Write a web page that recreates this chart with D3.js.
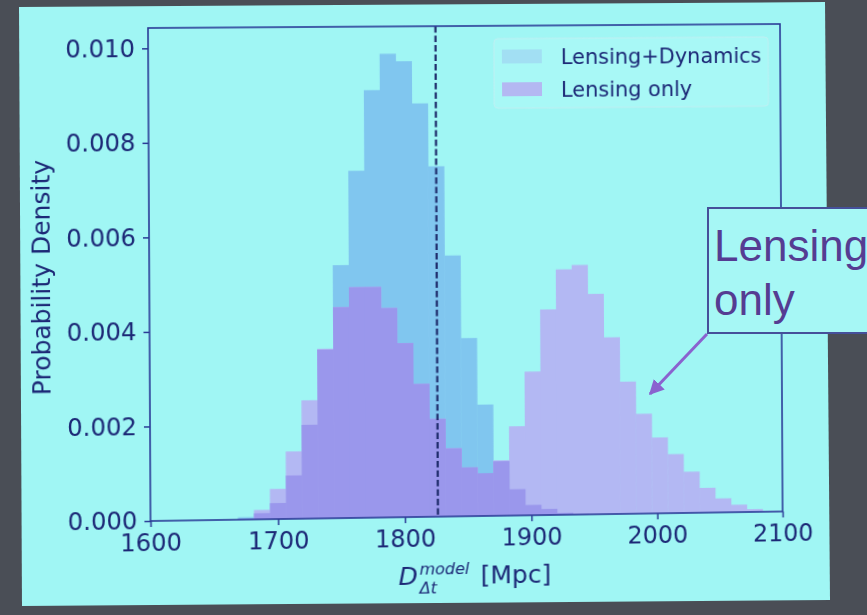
<!DOCTYPE html>
<html>
<head>
<meta charset="utf-8">
<script src="https://cdn.jsdelivr.net/npm/d3@7"></script>
<style>
  body { margin: 0; background: #4a4e56; }
  #wrap { position: relative; width: 867px; height: 615px; overflow: hidden; background: #4a4e56; filter: blur(0.4px); }
  #wrap svg, #plane { position: absolute; left: 0; top: 0; }
  #plane { width: 867px; height: 615px; transform-origin: 0 0; }
  text { font-family: "DejaVu Sans", sans-serif; }
</style>
</head>
<body>
<div id="wrap">
  <svg id="bg" width="867" height="615"></svg>
  <div id="plane"><svg id="chart" width="867" height="615"></svg></div>
  <svg id="over" width="867" height="615"></svg>
</div>
<script>
// histogram data (probability density per bin)
const binStart = 1668.5;
const binWidth = 12.59;
const lensDyn = [0.00005, 0.00013, 0.00034, 0.00092, 0.00199, 0.00358, 0.00537, 0.00737,
    0.00908, 0.00985, 0.00969, 0.00879, 0.00745, 0.00555, 0.00379, 0.00237, 0.00116,
    0.00056, 0.00022, 0.00013, 0.00004, 0.00002];
const lensOnly = [0.00002, 0.00020, 0.00064, 0.00143, 0.00251, 0.00360, 0.00448, 0.00490,
    0.00490, 0.00445, 0.00370, 0.00283, 0.00208, 0.00145, 0.00104, 0.00091, 0.00118,
    0.00190, 0.00306, 0.00438, 0.00523, 0.00532, 0.00470, 0.00377, 0.00282, 0.00213,
    0.00162, 0.00126, 0.00088, 0.00053, 0.00030, 0.00016, 0.00006, 0.00002];
const xTicks = [1600, 1700, 1800, 1900, 2000, 2100];
const yTicks = [0, 0.002, 0.004, 0.006, 0.008, 0.010];
const xDomain = [1600, 2100];
const yDomain = [0, 0.01043];
const refLine = 1826;
const legendLabels = ["Lensing+Dynamics", "Lensing only"];
const calloutLines = ["Lensing", "only"];

const colors = {
    slide: "#a0f6f4",
    ld: "#80c6ef",
    lo: "#b3b8f3",
    both: "#9a97ec",
    ink: "#1c2876",
    spine: "#2a3a96",
    callout: "#553c92",
    arrow: "#8a62cf"
};

// flat axes box and where its corners land in the photo (keystone)
const box = {left: 150, right: 782, top: 28, bottom: 521};
const flatCorners = [[box.left, box.top], [box.right, box.top], [box.right, box.bottom], [box.left, box.bottom]];
const photoCorners = [[148, 28], [780, 24], [782.6, 511.5], [150.5, 521]];

function homography(src, dst) {
    let A = [], b = [];
    for (let i = 0; i < 4; i++) {
        let [x, y] = src[i], [u, v] = dst[i];
        A.push([x, y, 1, 0, 0, 0, -x * u, -y * u]); b.push(u);
        A.push([0, 0, 0, x, y, 1, -x * v, -y * v]); b.push(v);
    }
    for (let c = 0; c < 8; c++) {
        let p = c;
        for (let r = c + 1; r < 8; r++) if (Math.abs(A[r][c]) > Math.abs(A[p][c])) p = r;
        [A[c], A[p]] = [A[p], A[c]];
        [b[c], b[p]] = [b[p], b[c]];
        for (let r = 0; r < 8; r++) {
            if (r === c) continue;
            let f = A[r][c] / A[c][c];
            for (let k = c; k < 8; k++) A[r][k] -= f * A[c][k];
            b[r] -= f * b[c];
        }
    }
    return b.map((v, i) => v / A[i][i]);
}

let h = homography(flatCorners, photoCorners);
document.getElementById("plane").style.transform =
    `matrix3d(${h[0]},${h[3]},0,${h[6]},${h[1]},${h[4]},0,${h[7]},0,0,1,0,${h[2]},${h[5]},0,1)`;

// slide background (projection area)
d3.select("#bg").append("polygon")
    .attr("points", "19,7 825,2 830,600 22,606")
    .attr("fill", colors.slide);

let svg = d3.select("#chart");

let x = d3.scaleLinear().domain(xDomain).range([box.left, box.right]);
let y = d3.scaleLinear().domain(yDomain).range([box.bottom, box.top]);

let bins = (arr) => arr.map((v, i) => ({x0: binStart + i * binWidth, x1: binStart + (i + 1) * binWidth, v: v}));
let ldBins = bins(lensDyn);
let loBins = bins(lensOnly);
let bothBins = loBins.map((d, i) => ({x0: d.x0, x1: d.x1, v: Math.min(d.v, lensDyn[i] || 0)}));

let drawBars = (data, fill) => svg.append("g")
    .selectAll("rect")
    .data(data)
    .join("rect")
    .attr("x", d => x(d.x0))
    .attr("width", d => x(d.x1) - x(d.x0) + 0.4)
    .attr("y", d => y(d.v))
    .attr("height", d => y(0) - y(d.v))
    .attr("fill", fill);

drawBars(ldBins, colors.ld);
drawBars(loBins, colors.lo);
drawBars(bothBins, colors.both);

// dashed reference line
svg.append("line")
    .attr("x1", x(refLine)).attr("x2", x(refLine))
    .attr("y1", box.top).attr("y2", box.bottom)
    .attr("stroke", "#1f2c6c")
    .attr("stroke-width", 2.2)
    .attr("stroke-dasharray", "6.5,3");

// spines
svg.append("rect")
    .attr("x", box.left).attr("y", box.top)
    .attr("width", box.right - box.left).attr("height", box.bottom - box.top)
    .attr("fill", "none")
    .attr("stroke", colors.spine)
    .attr("stroke-width", 1.6);

let xAxis = svg.append("g")
    .attr("transform", `translate(0,${box.bottom})`)
    .call(d3.axisBottom(x).tickValues(xTicks).tickFormat(d3.format("d")).tickSize(6).tickPadding(7));
let yAxis = svg.append("g")
    .attr("transform", `translate(${box.left},0)`)
    .call(d3.axisLeft(y).tickValues(yTicks).tickFormat(d3.format(".3f")).tickSize(6).tickPadding(7));

[xAxis, yAxis].forEach(ax => {
    ax.select(".domain").remove();
    ax.selectAll(".tick line").attr("stroke", colors.spine).attr("stroke-width", 1.5);
    ax.selectAll(".tick text")
        .attr("fill", colors.ink)
        .style("font-family", "DejaVu Sans")
        .style("font-size", "24px");
});

// y label
svg.append("text")
    .attr("transform", `translate(43,${(box.top + box.bottom) / 2 + 2}) rotate(-90)`)
    .attr("text-anchor", "middle")
    .attr("dy", "0.35em")
    .attr("fill", colors.ink)
    .style("font-size", "25px")
    .text("Probability Density");

// x label: D^model_Δt [Mpc]
let xl = svg.append("g").attr("transform", `translate(0,${box.bottom + 68})`);
xl.append("text").attr("x", 396).attr("y", 0)
    .attr("fill", colors.ink).style("font-size", "25px").style("font-style", "italic").text("D");
xl.append("text").attr("x", 417).attr("y", -10)
    .attr("fill", colors.ink).style("font-size", "16px").style("font-style", "italic").text("model");
xl.append("text").attr("x", 417).attr("y", 9)
    .attr("fill", colors.ink).style("font-size", "16px").style("font-style", "italic").text("Δt");
xl.append("text").attr("x", 478).attr("y", 0)
    .attr("fill", colors.ink).style("font-size", "25px").text("[Mpc]");

// legend
let lg = svg.append("g").attr("transform", `translate(494,41)`);
lg.append("rect")
    .attr("width", 276).attr("height", 70).attr("rx", 4)
    .attr("fill", "#a8f8f6").attr("stroke", "#bfeff2").attr("stroke-width", 1);
let legendFill = ["#a2dff3", "#b4b8f2"];
legendLabels.forEach((lab, i) => {
    lg.append("rect")
        .attr("x", 8).attr("y", 11 + i * 33)
        .attr("width", 40).attr("height", 14)
        .attr("fill", legendFill[i]);
    lg.append("text")
        .attr("x", 67).attr("y", 18 + i * 33)
        .attr("dy", "0.36em")
        .attr("fill", colors.ink)
        .style("font-size", "21px")
        .text(lab);
});

// callout box with arrow (drawn on top, photo coords)
let over = d3.select("#over");
over.append("defs").append("marker")
    .attr("id", "ah").attr("viewBox", "0 0 10 10")
    .attr("refX", 9).attr("refY", 5)
    .attr("markerWidth", 5).attr("markerHeight", 5)
    .attr("orient", "auto")
    .append("path").attr("d", "M0,0 L10,5 L0,10 z").attr("fill", colors.arrow);
over.append("line")
    .attr("x1", 707).attr("y1", 334).attr("x2", 650).attr("y2", 394)
    .attr("stroke", colors.arrow).attr("stroke-width", 3)
    .attr("marker-end", "url(#ah)");
over.append("rect")
    .attr("x", 708).attr("y", 208).attr("width", 180).attr("height", 125)
    .attr("fill", "#a6f7f5").attr("stroke", "#45509a").attr("stroke-width", 2);
calloutLines.forEach((t, i) => {
    over.append("text")
        .attr("x", 714).attr("y", 261 + i * 54)
        .attr("fill", colors.callout)
        .style("font-family", "Liberation Sans, Arial, sans-serif")
        .style("font-size", "44px")
        .text(t);
});
</script>
</body>
</html>
